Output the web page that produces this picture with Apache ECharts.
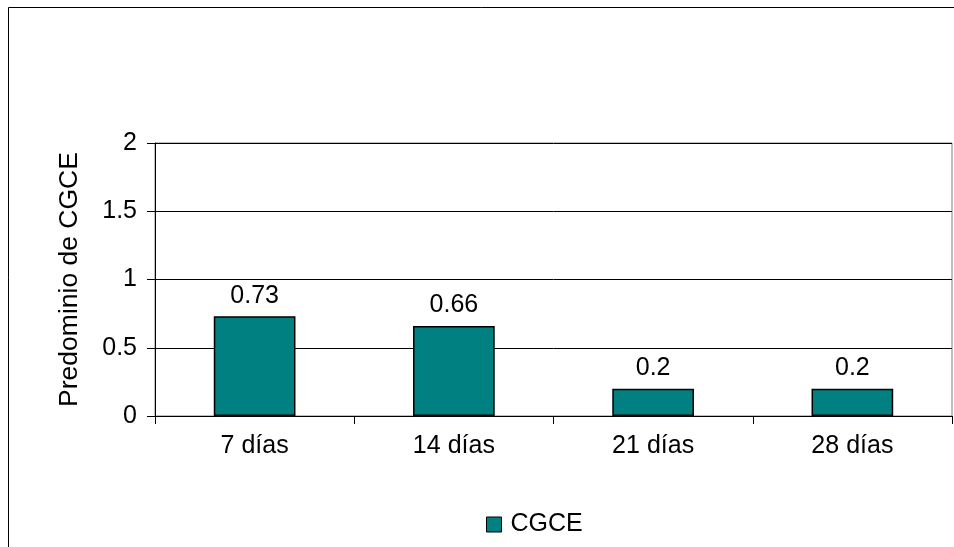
<!DOCTYPE html>
<html>
<head>
<meta charset="utf-8">
<script src="https://cdn.jsdelivr.net/npm/echarts@6/dist/echarts.min.js"></script>
<style>
  html, body { margin: 0; padding: 0; background: #fff; }
  #chart { width: 954px; height: 547px; }
</style>
</head>
<body>
<div id="chart"></div>
<script>
// Chart data
const categories = ['7 días', '14 días', '21 días', '28 días'];
const cgceValues = [0.73, 0.66, 0.2, 0.2];
const seriesName = 'CGCE';
const axisTitle = 'Predominio de CGCE';

const FONT = '"Liberation Sans", Arial, sans-serif';
const FS = 25;

const chart = echarts.init(document.getElementById('chart'), null, { renderer: 'canvas' });

chart.setOption({
  backgroundColor: '#ffffff',
  animation: false,
  textStyle: { fontFamily: FONT, color: '#000' },
  graphic: [{
    type: 'rect',
    shape: { x: 8.5, y: 7.5, width: 1000, height: 600 },
    style: { fill: 'none', stroke: '#000', lineWidth: 1 },
    silent: true,
    z: 0
  }],
  grid: {
    left: 155, right: 2, top: 143, bottom: 131,
    show: true, borderColor: '#808080', borderWidth: 1,
    backgroundColor: 'transparent'
  },
  legend: {
    left: 481, top: 507,
    icon: 'rect', itemWidth: 15, itemHeight: 15, itemGap: 10,
    textStyle: { fontFamily: FONT, fontSize: FS, color: '#000', padding: [0, 0, 0, 4] },
    itemStyle: { borderColor: '#000', borderWidth: 1 },
    data: [seriesName]
  },
  xAxis: {
    type: 'category',
    data: categories,
    axisLine: { lineStyle: { color: '#000', width: 1 } },
    axisTick: { show: true, length: 8, lineStyle: { color: '#000' } },
    axisLabel: { fontFamily: FONT, fontSize: FS, color: '#000', margin: 18 },
    splitLine: { show: false }
  },
  yAxis: {
    type: 'value',
    min: 0, max: 2, interval: 0.5,
    name: axisTitle,
    nameLocation: 'middle',
    nameGap: 72,
    nameTextStyle: { fontFamily: FONT, fontSize: 26.5, color: '#000' },
    axisLine: { show: true, lineStyle: { color: '#000', width: 1 } },
    axisTick: { show: true, length: 8, lineStyle: { color: '#000' } },
    axisLabel: { fontFamily: FONT, fontSize: FS, color: '#000', margin: 18 },
    splitLine: { show: true, lineStyle: { color: '#000', width: 1 } }
  },
  series: [{
    name: seriesName,
    type: 'bar',
    data: cgceValues,
    barWidth: '41%',
    itemStyle: { color: '#008080', borderColor: '#000', borderWidth: 1.5 },
    label: {
      show: true, position: 'top', distance: 8,
      fontFamily: FONT, fontSize: FS, color: '#000'
    }
  }]
});
</script>
</body>
</html>
